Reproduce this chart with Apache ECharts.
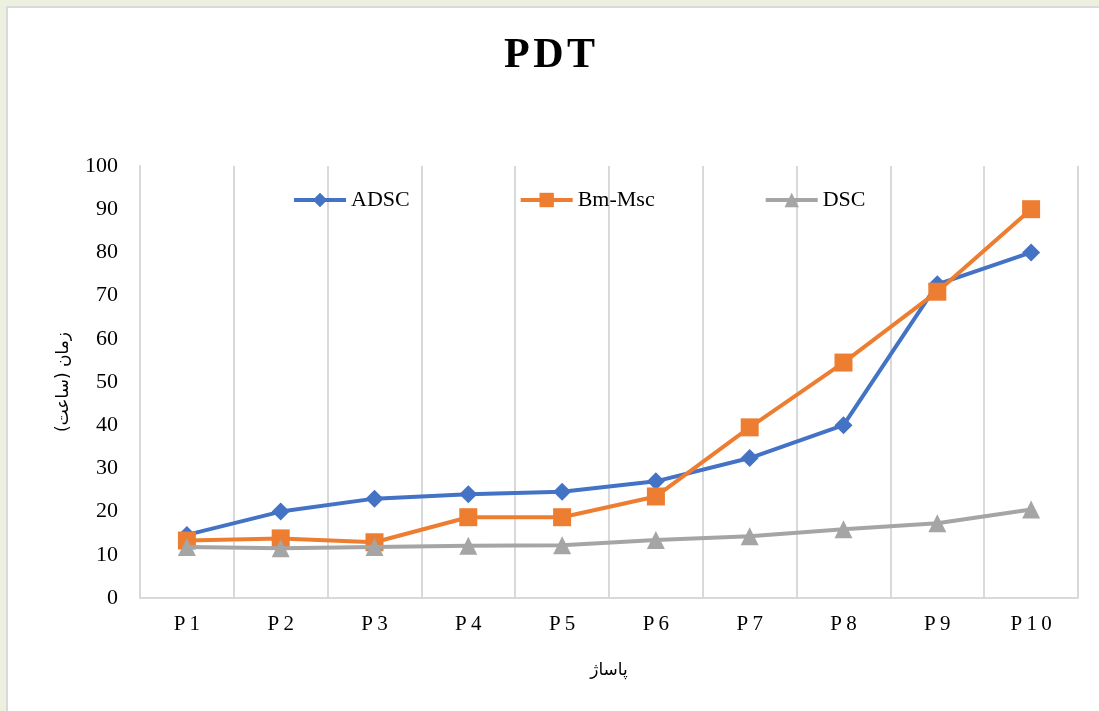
<!DOCTYPE html>
<html>
<head>
<meta charset="utf-8">
<script src="https://cdn.jsdelivr.net/npm/echarts@6/dist/echarts.min.js"></script>
<style>
    html, body {margin: 0; padding: 0; background: #EBF1DE; overflow: hidden;}
    #panel {position: absolute; left: 6px; top: 6px; width: 1100px; height: 720px; background: #fff; border-left: 2px solid #D9D9D9; border-top: 2px solid #D9D9D9;}
    #chart {position: absolute; left: 0; top: 0; width: 1099px; height: 711px;}
</style>
</head>
<body>
<div id="panel"></div>
<div id="chart"></div>
<script>
    // 数据
    let categories = ['P1', 'P2', 'P3', 'P4', 'P5', 'P6', 'P7', 'P8', 'P9', 'P10'];
    let adsc = [14.6, 20.0, 23.0, 24.0, 24.6, 27.0, 32.4, 40.0, 72.6, 80.0];
    let bmMsc = [13.3, 13.8, 12.9, 18.7, 18.7, 23.5, 39.5, 54.5, 70.9, 90.0];
    let dsc = [11.8, 11.5, 11.8, 12.1, 12.2, 13.4, 14.3, 15.9, 17.3, 20.5];

    let serif = '"Liberation Serif", "DejaVu Serif", serif';
    let arabic = '"DejaVu Sans", sans-serif';
    let thin = '\u2009';
    let hair = '\u200A';

    let chart = echarts.init(document.getElementById('chart'));
    let option = {
        title: {
            text: ['P', 'D', 'T'].join(hair),
            left: 'center',
            top: 30,
            textStyle: {fontFamily: serif, fontWeight: 'bold', fontSize: 42, color: '#000'}
        },
        legend: {
            left: 287,
            top: 184,
            itemGap: 109,
            itemWidth: 52,
            itemHeight: 18,
            lineStyle: {width: 4},
            textStyle: {fontFamily: serif, fontSize: 22, color: '#000'},
            data: ['ADSC', 'Bm-Msc', 'DSC']
        },
        grid: {left: 140, right: 21, top: 166, bottom: 113},
        xAxis: {
            type: 'category',
            data: categories,
            boundaryGap: true,
            name: 'پاساژ',
            nameLocation: 'middle',
            nameGap: 64,
            nameTextStyle: {fontFamily: arabic, fontSize: 17, color: '#000'},
            axisLine: {lineStyle: {color: '#D9D9D9', width: 2}},
            axisTick: {show: false},
            axisLabel: {
                margin: 16,
                fontFamily: serif, fontSize: 21, color: '#000',
                formatter: (v) => v.split('').join(thin)
            },
            splitLine: {show: true, lineStyle: {color: '#D9D9D9', width: 2}}
        },
        yAxis: {
            type: 'value',
            min: 0,
            max: 100,
            interval: 10,
            name: 'زمان (ساعت)',
            nameLocation: 'middle',
            nameGap: 68,
            nameRotate: 90,
            nameTextStyle: {fontFamily: arabic, fontSize: 17, color: '#000'},
            axisLine: {show: true, lineStyle: {color: '#D9D9D9', width: 2}},
            axisTick: {show: false},
            axisLabel: {margin: 22, fontFamily: serif, fontSize: 22, color: '#000'},
            splitLine: {show: false}
        },
        series: [
            {
                name: 'ADSC', type: 'line', data: adsc,
                symbol: 'diamond', symbolSize: 18,
                itemStyle: {color: '#4472C4'},
                lineStyle: {color: '#4472C4', width: 4},
                z: 3
            },
            {
                name: 'Bm-Msc', type: 'line', data: bmMsc,
                symbol: 'rect', symbolSize: 18,
                itemStyle: {color: '#ED7D31'},
                lineStyle: {color: '#ED7D31', width: 4},
                z: 4
            },
            {
                name: 'DSC', type: 'line', data: dsc,
                symbol: 'triangle', symbolSize: 18,
                itemStyle: {color: '#A5A5A5'},
                lineStyle: {color: '#A5A5A5', width: 4},
                z: 5
            }
        ],
        animation: false
    };
    chart.setOption(option);
</script>
</body>
</html>
